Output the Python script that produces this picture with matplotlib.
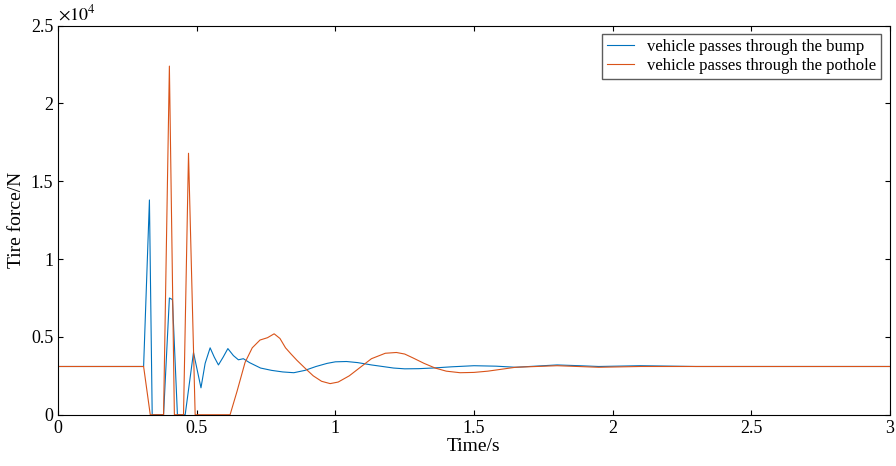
import matplotlib.pyplot as plt

plt.rcParams['font.family'] = ['Liberation Serif', 'DejaVu Serif']
plt.rcParams['mathtext.fontset'] = 'stix'

t_bump = [0, 0.308, 0.329, 0.339, 0.380, 0.401, 0.412, 0.430, 0.458, 0.488, 0.515, 0.530, 0.548,
          0.563, 0.578, 0.595, 0.612, 0.632, 0.650, 0.668, 0.69, 0.73, 0.77, 0.81, 0.85, 0.89,
          0.93, 0.97, 1.0, 1.04, 1.08, 1.13, 1.17, 1.21, 1.25, 1.3, 1.35, 1.42,
          1.5, 1.58, 1.65, 1.72, 1.8, 1.88, 1.95, 2.1, 2.3, 3.0]
f_bump = [3100, 3100, 13800, 0, 0, 7500, 7400, 0, 0, 4000, 1730, 3300, 4300,
          3700, 3200, 3700, 4250, 3800, 3530, 3600, 3350, 3000, 2850, 2750, 2700, 2850,
          3100, 3300, 3400, 3420, 3350, 3200, 3100, 3000, 2950, 2960, 3000, 3080,
          3150, 3120, 3050, 3120, 3200, 3150, 3100, 3150, 3100, 3100]

t_hole = [0, 0.308, 0.332, 0.380, 0.401, 0.419, 0.452, 0.470, 0.494, 0.620, 0.645, 0.674, 0.70,
          0.728, 0.755, 0.779, 0.80, 0.82, 0.84, 0.861, 0.89, 0.92, 0.95, 0.981, 1.01, 1.05,
          1.09, 1.13, 1.18, 1.22, 1.25, 1.28, 1.32, 1.36, 1.40, 1.45, 1.50, 1.55, 1.65,
          1.8, 1.95, 2.1, 3.0]
f_hole = [3100, 3100, 0, 0, 22400, 0, 0, 16800, 0, 0, 1500, 3360, 4300,
          4800, 4950, 5200, 4900, 4300, 3900, 3500, 3000, 2500, 2150, 2000, 2100, 2500,
          3050, 3600, 3950, 4000, 3900, 3650, 3300, 3000, 2800, 2700, 2720, 2800, 3050,
          3150, 3050, 3100, 3100]

fig, ax = plt.subplots(figsize=(8.96, 4.66), dpi=100)
ax.plot(t_bump, f_bump, color='#0072BD', lw=0.8, label='vehicle passes through the bump')
ax.plot(t_hole, f_hole, color='#D95319', lw=0.8, label='vehicle passes through the pothole')
ax.set_xlim(0, 3)
ax.set_ylim(0, 25000)
ax.set_xticks([0, 0.5, 1, 1.5, 2, 2.5, 3])
ax.set_xticklabels(['0', '0.5', '1', '1.5', '2', '2.5', '3'])
ax.set_yticks([0, 5000, 10000, 15000, 20000, 25000])
ax.set_yticklabels(['0', '0.5', '1', '1.5', '2', '2.5'])
ax.text(0, 1.005, r'$\times10^4$', transform=ax.transAxes, fontsize=13, va='bottom')
ax.tick_params(labelsize=13, direction='in', top=True, right=True)
ax.set_xlabel('Time/s', fontsize=14, labelpad=1)
ax.set_ylabel('Tire force/N', fontsize=14)
ax.legend(loc='upper right', fontsize=12, fancybox=False, edgecolor='#333333',
          handlelength=1.6, borderpad=0.3, labelspacing=0.2)
plt.subplots_adjust(left=0.065, right=0.993, top=0.945, bottom=0.11)
plt.savefig('out.png')
